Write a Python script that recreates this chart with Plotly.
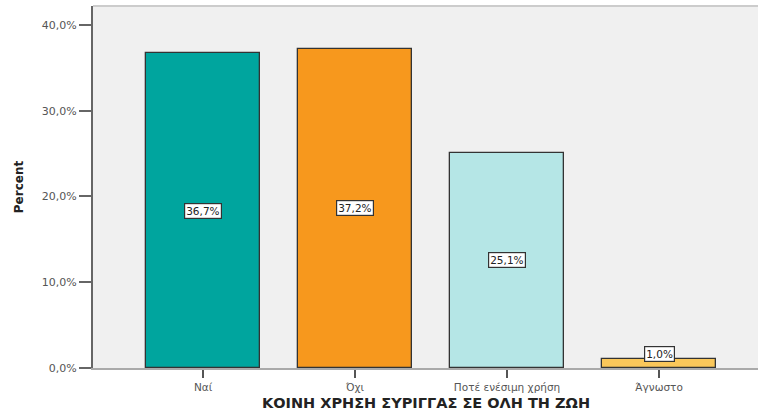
import plotly.graph_objects as go

categories = ["Ναί", "Όχι", "Ποτέ ενέσιμη χρήση", "Άγνωστο"]
percent = [36.7, 37.2, 25.1, 1.0]
colors = ["#00A59E", "#F7981D", "#B5E6E6", "#FAC75A"]
label_texts = ["36,7%", "37,2%", "25,1%", "1,0%"]
y_ticks = [0, 10, 20, 30, 40]
y_tick_labels = ["0,0%", "10,0%", "20,0%", "30,0%", "40,0%"]
x_title = "ΚΟΙΝΗ ΧΡΗΣΗ ΣΥΡΙΓΓΑΣ ΣΕ ΟΛΗ ΤΗ ΖΩΗ"

fig = go.Figure()
fig.add_trace(go.Bar(
    x=list(range(len(categories))), y=percent,
    marker=dict(color=colors, line=dict(color="#333333", width=1.3)),
    width=0.75, hoverinfo="skip",
))

for i, (v, t) in enumerate(zip(percent, label_texts)):
    fig.add_annotation(
        x=i, y=max(v / 2, 1.65), text=t, showarrow=False,
        font=dict(family="DejaVu Sans", size=10.5, color="#222222"),
        bgcolor="white", bordercolor="#333333", borderwidth=1.2, borderpad=1,
    )

fig.add_annotation(
    xref="paper", yref="paper", x=0.5, y=-0.0967, yanchor="middle",
    text="<b>" + x_title + "</b>", showarrow=False,
    font=dict(family="DejaVu Sans", size=14.5, color="#222222"),
)

fig.update_layout(
    width=758, height=414,
    margin=dict(l=93, r=0, t=6, b=46),
    paper_bgcolor="white", plot_bgcolor="#F0F0F0",
    showlegend=False,
    bargap=0,
    xaxis=dict(
        range=[-0.724, 3.651],
        tickmode="array", tickvals=list(range(len(categories))), ticktext=categories,
        ticks="outside", ticklen=8, tickcolor="#555555", tickwidth=1.5,
        showline=True, linecolor="#AAAAAA", linewidth=2,
        showgrid=False, zeroline=False,
        tickfont=dict(family="DejaVu Sans", size=10.5, color="#555555"),
        automargin=False,
    ),
    yaxis=dict(
        range=[0, 42.2],
        tickmode="array", tickvals=y_ticks, ticktext=y_tick_labels,
        ticks="outside", ticklen=12, tickcolor="#666666", tickwidth=1.5,
        showline=True, linecolor="#666666", linewidth=2,
        showgrid=False, zeroline=False,
        tickfont=dict(family="DejaVu Sans", size=11, color="#555555"),
        title=dict(text="<b>Percent</b>",
                   font=dict(family="DejaVu Sans", size=12, color="#222222"), standoff=16),
    ),
)
fig.add_shape(type="line", xref="paper", yref="paper", x0=0, x1=1, y0=1, y1=1,
              line=dict(color="#CCCCCC", width=2))

fig.write_html("out.html", config={"displayModeBar": False},
               post_script="document.body.style.margin='0';document.body.style.overflow='hidden';")
